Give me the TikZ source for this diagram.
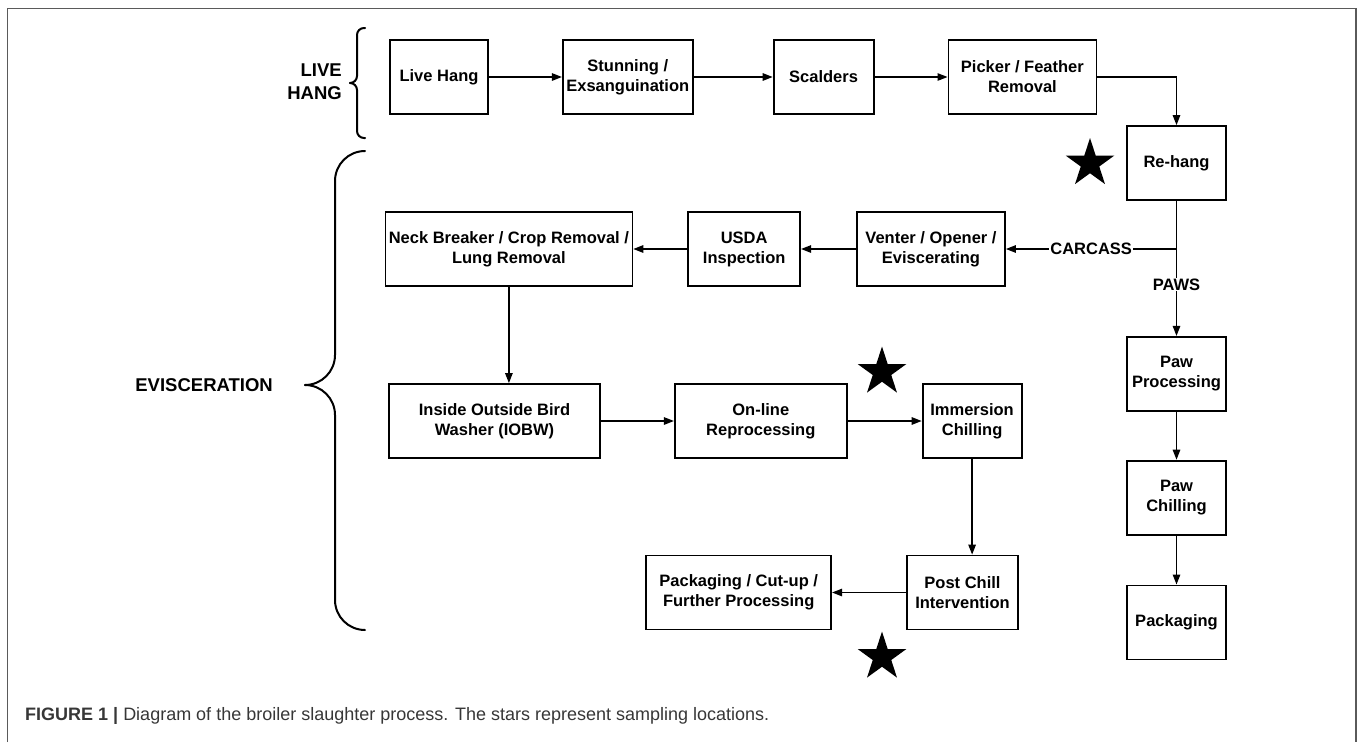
\documentclass[tikz,border=0pt]{standalone}
\usepackage{fontspec}
\setmainfont{Liberation Sans}
\usetikzlibrary{positioning, shapes.geometric, arrows.meta}

\definecolor{framegray}{RGB}{90,90,90}
\definecolor{captiongray}{RGB}{55,55,55}

\newcommand{\boxfont}{\fontsize{16.5}{20}\selectfont\bfseries}
\newcommand{\sidefont}{\fontsize{18.5}{23}\selectfont\bfseries}
\newcommand{\capfont}{\fontsize{18}{22}\selectfont}

\begin{document}
\begin{tikzpicture}[
x=1pt, y=-1pt,
node distance=73pt,
stepbox/.style={rectangle, draw, line width=1.8pt, text centered, align=center, minimum height=74pt, inner sep=2pt, font=\boxfont},
sidelabel/.style={align=right, anchor=east, inner sep=0pt, font=\sidefont},
sample/.style={star, star points=5, star point ratio=2.618, fill=black, minimum size=51pt, inner sep=0pt},
brace/.style={line width=2pt, line cap=round},
arrow/.style={->, >={Triangle[length=10pt, width=7.5pt]}, line width=1.3pt},
split/.style={fill=white, inner sep=1pt, font=\boxfont}
]
\useasboundingbox (0,0) rectangle (1358,742);

% Frame
\draw[framegray, line width=1.5pt] (7.5,742) -- (7.5,8.5) -- (1356,8.5) -- (1356,742);

% Live hang row
\node (livehang) [stepbox, minimum width=98pt] at (439,77) {Live Hang};
\node (stunning) [stepbox, minimum width=130pt, right=73pt of livehang] {Stunning /\\Exsanguination};
\node (scalders) [stepbox, minimum width=100pt, right=79pt of stunning] {Scalders};
\node (picker) [stepbox, minimum width=148pt, right=73pt of scalders] {Picker / Feather\\Removal};

% Evisceration
\node (rehang) [stepbox, minimum width=99pt] at (1176.5,163) {Re-hang};
\node (venter) [stepbox, minimum width=148pt] at (931,249) {Venter / Opener /\\Eviscerating};
\node (usda) [stepbox, minimum width=112pt, left=55pt of venter] {USDA\\Inspection};
\node (neck) [stepbox, minimum width=247pt, left=54pt of usda] {Neck Breaker / Crop Removal /\\Lung Removal};
\node (iobw) [stepbox, minimum width=211pt] at (494.5,421) {Inside Outside Bird\\Washer (IOBW)};
\node (online) [stepbox, minimum width=172pt, right=73pt of iobw] {On-line\\Reprocessing};
\node (immersion) [stepbox, minimum width=99pt, right=74pt of online] {Immersion\\Chilling};
\node (postchill) [stepbox, minimum width=111pt] at (962.5,592.5) {Post Chill\\Intervention};
\node (packcut) [stepbox, minimum width=185pt, left=74pt of postchill] {Packaging / Cut-up /\\Further Processing};

% Paws
\node (pawproc) [stepbox, minimum width=99pt, below=135pt of rehang] {Paw\\Processing};
\node (pawchill) [stepbox, minimum width=99pt, below=48pt of pawproc] {Paw\\Chilling};
\node (pawpack) [stepbox, minimum width=99pt, below=49pt of pawchill] {Packaging};

% Sampling stars
\node (star1) [sample] at (1090,163.5) {};
\node (star2) [sample] at (882,372) {};
\node (star3) [sample] at (882,657) {};

% Side labels and braces
\node (livelabel) [sidelabel] at (342,82) {LIVE\\HANG};
\node (evislabel) [sidelabel] at (273,385) {EVISCERATION};
\draw[brace, rounded corners=7pt] (365,28) -- (357,28) -- (357,83) -- (350,83);
\draw[brace, rounded corners=7pt] (350,83) -- (357,83) -- (357,138) -- (365,138);
\draw[brace, rounded corners=30pt] (365,151) -- (335,151) -- (335,385) -- (305,385);
\draw[brace, rounded corners=30pt] (305,385) -- (335,385) -- (335,630) -- (365,630);

% Arrows
\draw[arrow] (livehang) -- (stunning);
\draw[arrow] (stunning) -- (scalders);
\draw[arrow] (scalders) -- (picker);
\draw[arrow] (picker.east) -| (rehang.north);
\coordinate (fork) at (rehang.south |- venter.east);
\draw[line width=1.3pt] (rehang.south) -- (fork);
\draw[arrow] (fork) -- node[split] {CARCASS} (venter.east);
\draw[arrow] (fork) -- node[split, pos=0.41] {PAWS} (pawproc.north);
\draw[arrow] (venter) -- (usda);
\draw[arrow] (usda) -- (neck);
\draw[arrow] (neck.south) -- (neck.south |- iobw.north);
\draw[arrow] (iobw) -- (online);
\draw[arrow] (online) -- (immersion);
\draw[arrow] (immersion.south) -- (immersion.south |- postchill.north);
\draw[arrow] (postchill) -- (packcut);
\draw[arrow] (pawproc) -- (pawchill);
\draw[arrow] (pawchill) -- (pawpack);

% Caption
\node (caption) [anchor=base west, inner sep=0pt, font=\capfont, text=captiongray] at (25,720) {\textbf{FIGURE 1 |} Diagram of the broiler slaughter process. The stars represent sampling locations.};

\end{tikzpicture}
\end{document}
